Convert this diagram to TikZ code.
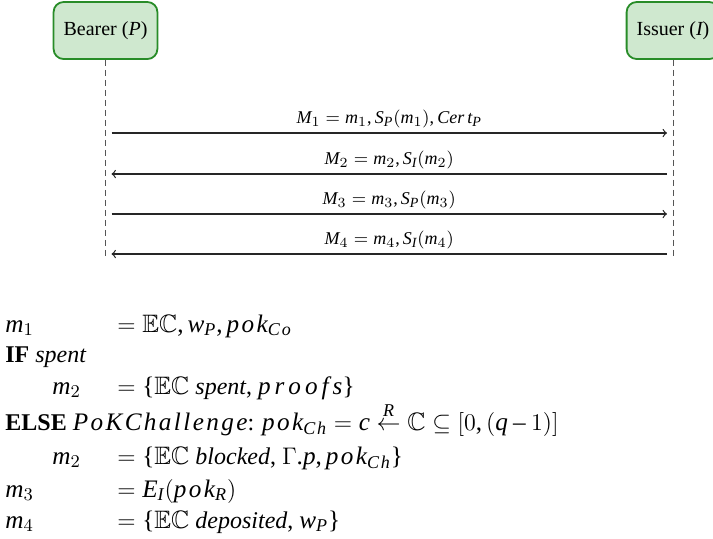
\documentclass[tikz,border=0pt]{standalone}
\usepackage{amsmath,amssymb}
\usepackage{fontspec}
\setmainfont{Liberation Serif}
\usepackage[italic]{mathastext}
\DeclareMathSizes{12}{12.6}{9}{7}
\newcommand{\lsp}{\mkern1.8mu}
\definecolor{boxfill}{RGB}{207,232,207}
\definecolor{boxline}{RGB}{40,140,40}
\definecolor{lifegray}{RGB}{85,85,85}
\begin{document}
\begin{tikzpicture}[x=0.5pt,y=-0.5pt,
  actor/.style={draw=boxline, fill=boxfill, line width=0.9pt, rounded corners=5pt,
    minimum height=28.5pt, inner xsep=5pt, font=\fontsize{10}{12}\selectfont},
  lifeline/.style={draw=lifegray, line width=0.5pt, dash pattern=on 3pt off 2pt},
  msg/.style={draw=black!85, line width=0.6pt, ->, shorten >=3pt, shorten <=3pt},
  msglabel/.style={font=\fontsize{9}{11}\selectfont, above, inner sep=2pt},
  txt/.style={anchor=base west, inner sep=0pt, font=\fontsize{12}{14}\selectfont}]
\useasboundingbox (0,0) rectangle (713,538);
\node[actor] (P) at (105.5,30.5) {Bearer ($P$)};
\node[actor] (I) at (673,30.5) {Issuer ($I$)};
\coordinate (Pend) at (105.5,257);
\coordinate (Iend) at (673,257);
\draw[lifeline] (P.south) -- (Pend);
\draw[lifeline] (I.south) -- (Iend);
\coordinate (p1) at (105.5,133); \coordinate (i1) at (673,133);
\coordinate (p2) at (105.5,174); \coordinate (i2) at (673,174);
\coordinate (p3) at (105.5,214); \coordinate (i3) at (673,214);
\coordinate (p4) at (105.5,254); \coordinate (i4) at (673,254);
\draw[msg] (p1) -- node[msglabel] (l1) {$M_1 = m_1, S_P(m_1), Cer\,t_P$} (i1);
\draw[msg] (i2) -- node[msglabel] (l2) {$M_2 = m_2, S_I(m_2)$} (p2);
\draw[msg] (p3) -- node[msglabel] (l3) {$M_3 = m_3, S_P(m_3)$} (i3);
\draw[msg] (i4) -- node[msglabel] (l4) {$M_4 = m_4, S_I(m_4)$} (p4);
% text block
\node[txt] (r1a) at (5,332) {$m_1$};
\node[txt] (r1b) at (117,332) {$= \mathbb{E}\mathbb{C}, w_P, p\lsp o\lsp k_{C\lsp o}$};
\node[txt] (r2) at (5,362) {\textbf{IF} \textit{spent}};
\node[txt] (r3a) at (52,394) {$m_2$};
\node[txt] (r3b) at (117,394) {$= \{\mathbb{E}\mathbb{C}$ \textit{spent}, $p\,r\,o\,o\,f\,s\}$};
\node[txt] (r4) at (5,430) {\textbf{ELSE} $P\lsp o\lsp K\lsp C\lsp h\lsp a\lsp l\lsp l\lsp e\lsp n\lsp g\lsp e$: $p\lsp o\lsp k_{C\lsp h} = c \overset{R}{\leftarrow} \mathbb{C} \subseteq [0,(q-1)]$};
\node[txt] (r5a) at (52,464) {$m_2$};
\node[txt] (r5b) at (117,464) {$= \{\mathbb{E}\mathbb{C}$ \textit{blocked}, $\Gamma.p, p\lsp o\lsp k_{C\lsp h}\}$};
\node[txt] (r6a) at (5,497) {$m_3$};
\node[txt] (r6b) at (117,497) {$= E_I(p\lsp o\lsp k_R)$};
\node[txt] (r7a) at (5,528) {$m_4$};
\node[txt] (r7b) at (117,528) {$= \{\mathbb{E}\mathbb{C}$ \textit{deposited}, $w_P\}$};
\end{tikzpicture}
\end{document}
